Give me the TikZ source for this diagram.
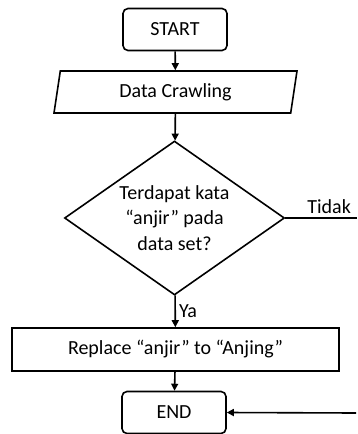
\documentclass[tikz,border=0pt]{standalone}
\usepackage{fontspec}
\setmainfont{Carlito}
\usetikzlibrary{arrows.meta,positioning,shapes.geometric}

\begin{document}
\begin{tikzpicture}[x=1pt,y=-1pt,
    font=\fontsize{20}{25.5}\selectfont,
    every path/.style={line width=1.6pt},
    flow/.style={-{Triangle[length=7pt,width=7pt]},line width=1.6pt},
    termbox/.style={draw,rounded corners=5pt,minimum width=104,minimum height=42,inner sep=0pt},
    procbox/.style={draw,minimum width=327,minimum height=43,inner sep=0pt},
    iobox/.style={draw,trapezium,trapezium left angle=70,trapezium right angle=110,
      trapezium stretches body,minimum width=243,minimum height=42,inner sep=0pt},
    decbox/.style={draw,diamond,aspect=1.43,minimum width=220,minimum height=154,
      inner sep=0pt,align=center}]
  \useasboundingbox (0,0) rectangle (357,434);

  \node[termbox] (start) at (175,29.5) {START};
  \node[iobox] (crawl) at (175.5,92) {Data Crawling};
  \node[decbox] (cek) at (174.5,218) {Terdapat kata\\“anjir” pada\\data set?};
  \node[procbox] (ganti) at (175.5,349.5) {Replace “anjir” to “Anjing”};
  \node[termbox] (finish) at (174,412.5) {END};

  % jalur Tidak keluar ke kanan, kembali ke END
  \coordinate (tidak) at (357,218);
  \coordinate (balik) at (356,413);

  \draw[flow] (start) -- (crawl);
  \draw[flow] (crawl) -- (cek);
  \draw[flow] (cek) -- node[right,inner sep=3pt] {Ya} (ganti);
  \draw[flow] (ganti) -- (finish);
  \draw (cek.east) -- node[above,inner sep=4pt,xshift=8pt] {Tidak} (tidak);
  \draw[flow] (balik) -- (finish.east);
\end{tikzpicture}
\end{document}
